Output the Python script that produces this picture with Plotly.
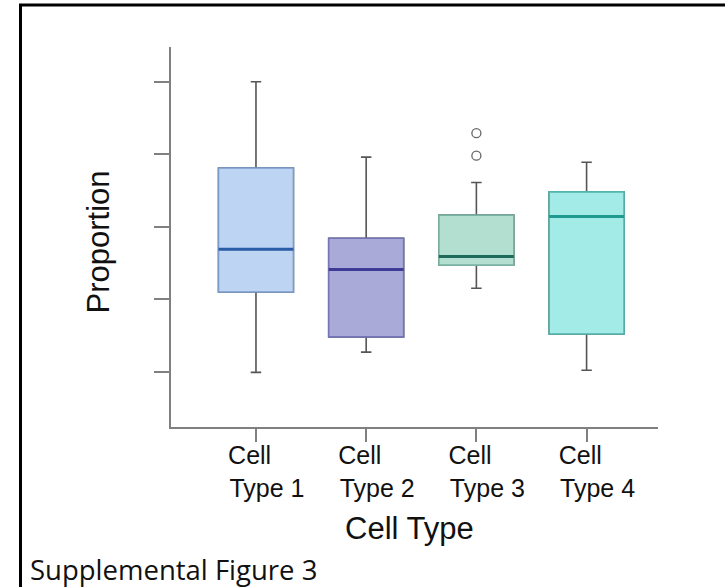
import plotly.graph_objects as go

# ---- data ----
categories = ["Cell Type 1", "Cell Type 2", "Cell Type 3", "Cell Type 4"]
tick_labels = ["Cell" + "\u00a0" * 5 + "<br>Type 1", "Cell" + "\u00a0" * 5 + "<br>Type 2",
               "Cell" + "\u00a0" * 5 + "<br>Type 3", "Cell" + "\u00a0" * 5 + "<br>Type 4"]
lower_whisker = [0.099, 0.127, 0.215, 0.102]
q1_values = [0.210, 0.148, 0.247, 0.152]
median_values = [0.269, 0.241, 0.259, 0.314]
q3_values = [0.381, 0.284, 0.316, 0.348]
upper_whisker = [0.500, 0.396, 0.361, 0.389]
outlier_category = ["Cell Type 3", "Cell Type 3"]
outlier_values = [0.398, 0.429]
y_ticks = [0.1, 0.2, 0.3, 0.4, 0.5]

fill_colors = ["#bdd5f3", "#aaaad9", "#b2dfd0", "#a2ebe6"]
outline_colors = ["#7b9dcc", "#7474b6", "#7ab3a3", "#52b5ad"]
median_colors = ["#2b5ca6", "#3c3c96", "#1f6b5b", "#1f9a91"]

BOX_W = 0.68
FONT = "Liberation Sans, Arial, sans-serif"

fig = go.Figure()

for i, cat in enumerate(categories):
    # whiskers + caps
    fig.add_trace(go.Box(
        x=[cat], q1=[q1_values[i]], median=[median_values[i]], q3=[q3_values[i]],
        lowerfence=[lower_whisker[i]], upperfence=[upper_whisker[i]],
        width=BOX_W, whiskerwidth=0.14, fillcolor="rgba(0,0,0,0)",
        line=dict(color="#555555", width=1.6), boxpoints=False,
        showlegend=False, hoverinfo="skip"))
    # coloured box
    fig.add_trace(go.Box(
        x=[cat], q1=[q1_values[i]], median=[median_values[i]], q3=[q3_values[i]],
        lowerfence=[q1_values[i]], upperfence=[q3_values[i]],
        width=BOX_W, whiskerwidth=0, fillcolor=fill_colors[i],
        line=dict(color=outline_colors[i], width=1.6), boxpoints=False,
        showlegend=False))
    # median line
    fig.add_trace(go.Box(
        x=[cat], q1=[median_values[i]], median=[median_values[i]], q3=[median_values[i]],
        lowerfence=[median_values[i]], upperfence=[median_values[i]],
        width=BOX_W, whiskerwidth=0, fillcolor="rgba(0,0,0,0)",
        line=dict(color=median_colors[i], width=3), boxpoints=False,
        showlegend=False, hoverinfo="skip"))

fig.add_trace(go.Scatter(
    x=outlier_category, y=outlier_values, mode="markers",
    marker=dict(symbol="circle-open", size=9, color="#666666", line=dict(width=1.3)),
    showlegend=False))

fig.update_layout(
    width=725, height=587,
    margin=dict(l=171, r=67, t=47, b=160),
    paper_bgcolor="white", plot_bgcolor="white",
    boxmode="overlay",
    font=dict(family=FONT, color="#000000"),
    xaxis=dict(
        type="category", categoryorder="array", categoryarray=categories,
        range=[-0.771, 3.648],
        tickmode="array", tickvals=categories, ticktext=tick_labels,
        ticks="outside", ticklen=13, tickwidth=1.5, tickcolor="#808080",
        showline=True, linecolor="#808080", linewidth=2,
        showgrid=False, zeroline=False,
        tickfont=dict(size=25, family=FONT, color="#111111"),
        ticklabelshift=11, ticklabelstandoff=-8,
    ),
    yaxis=dict(
        range=[0.0237, 0.5479],
        tickmode="array", tickvals=y_ticks, showticklabels=False,
        ticks="outside", ticklen=15, tickwidth=1.5, tickcolor="#808080",
        showline=True, linecolor="#808080", linewidth=2,
        showgrid=False, zeroline=False,
    ),
    annotations=[
        dict(text="Proportion", xref="paper", yref="paper", x=-0.148, y=0.488,
             xanchor="center", yanchor="middle", textangle=-90, showarrow=False,
             font=dict(size=31, family=FONT, color="#111111")),
        dict(text="Cell Type", xref="paper", yref="paper", x=(409 - 171) / 487,
             y=(427.3 - 529) / 380, xanchor="center", yanchor="middle", showarrow=False,
             font=dict(size=31, family=FONT, color="#111111")),
        dict(text="Supplemental Figure 3", xref="paper", yref="paper", x=(28 - 171) / 487,
             y=(427.3 - 570) / 380, xanchor="left", yanchor="middle", showarrow=False,
             font=dict(size=27.5, family="Open Sans, sans-serif", color="#111111")),
    ],
    shapes=[
        dict(type="rect", xref="paper", yref="paper",
             x0=(20.5 - 171) / 487, x1=(740 - 171) / 487,
             y0=(427.3 - 600) / 380, y1=(427.3 - 5.3) / 380,
             line=dict(color="#000000", width=3), fillcolor="rgba(0,0,0,0)", layer="above"),
    ],
)

fig.write_html("out.html", config={"displayModeBar": False},
               post_script="document.body.style.margin='0';document.body.style.padding='0';")
